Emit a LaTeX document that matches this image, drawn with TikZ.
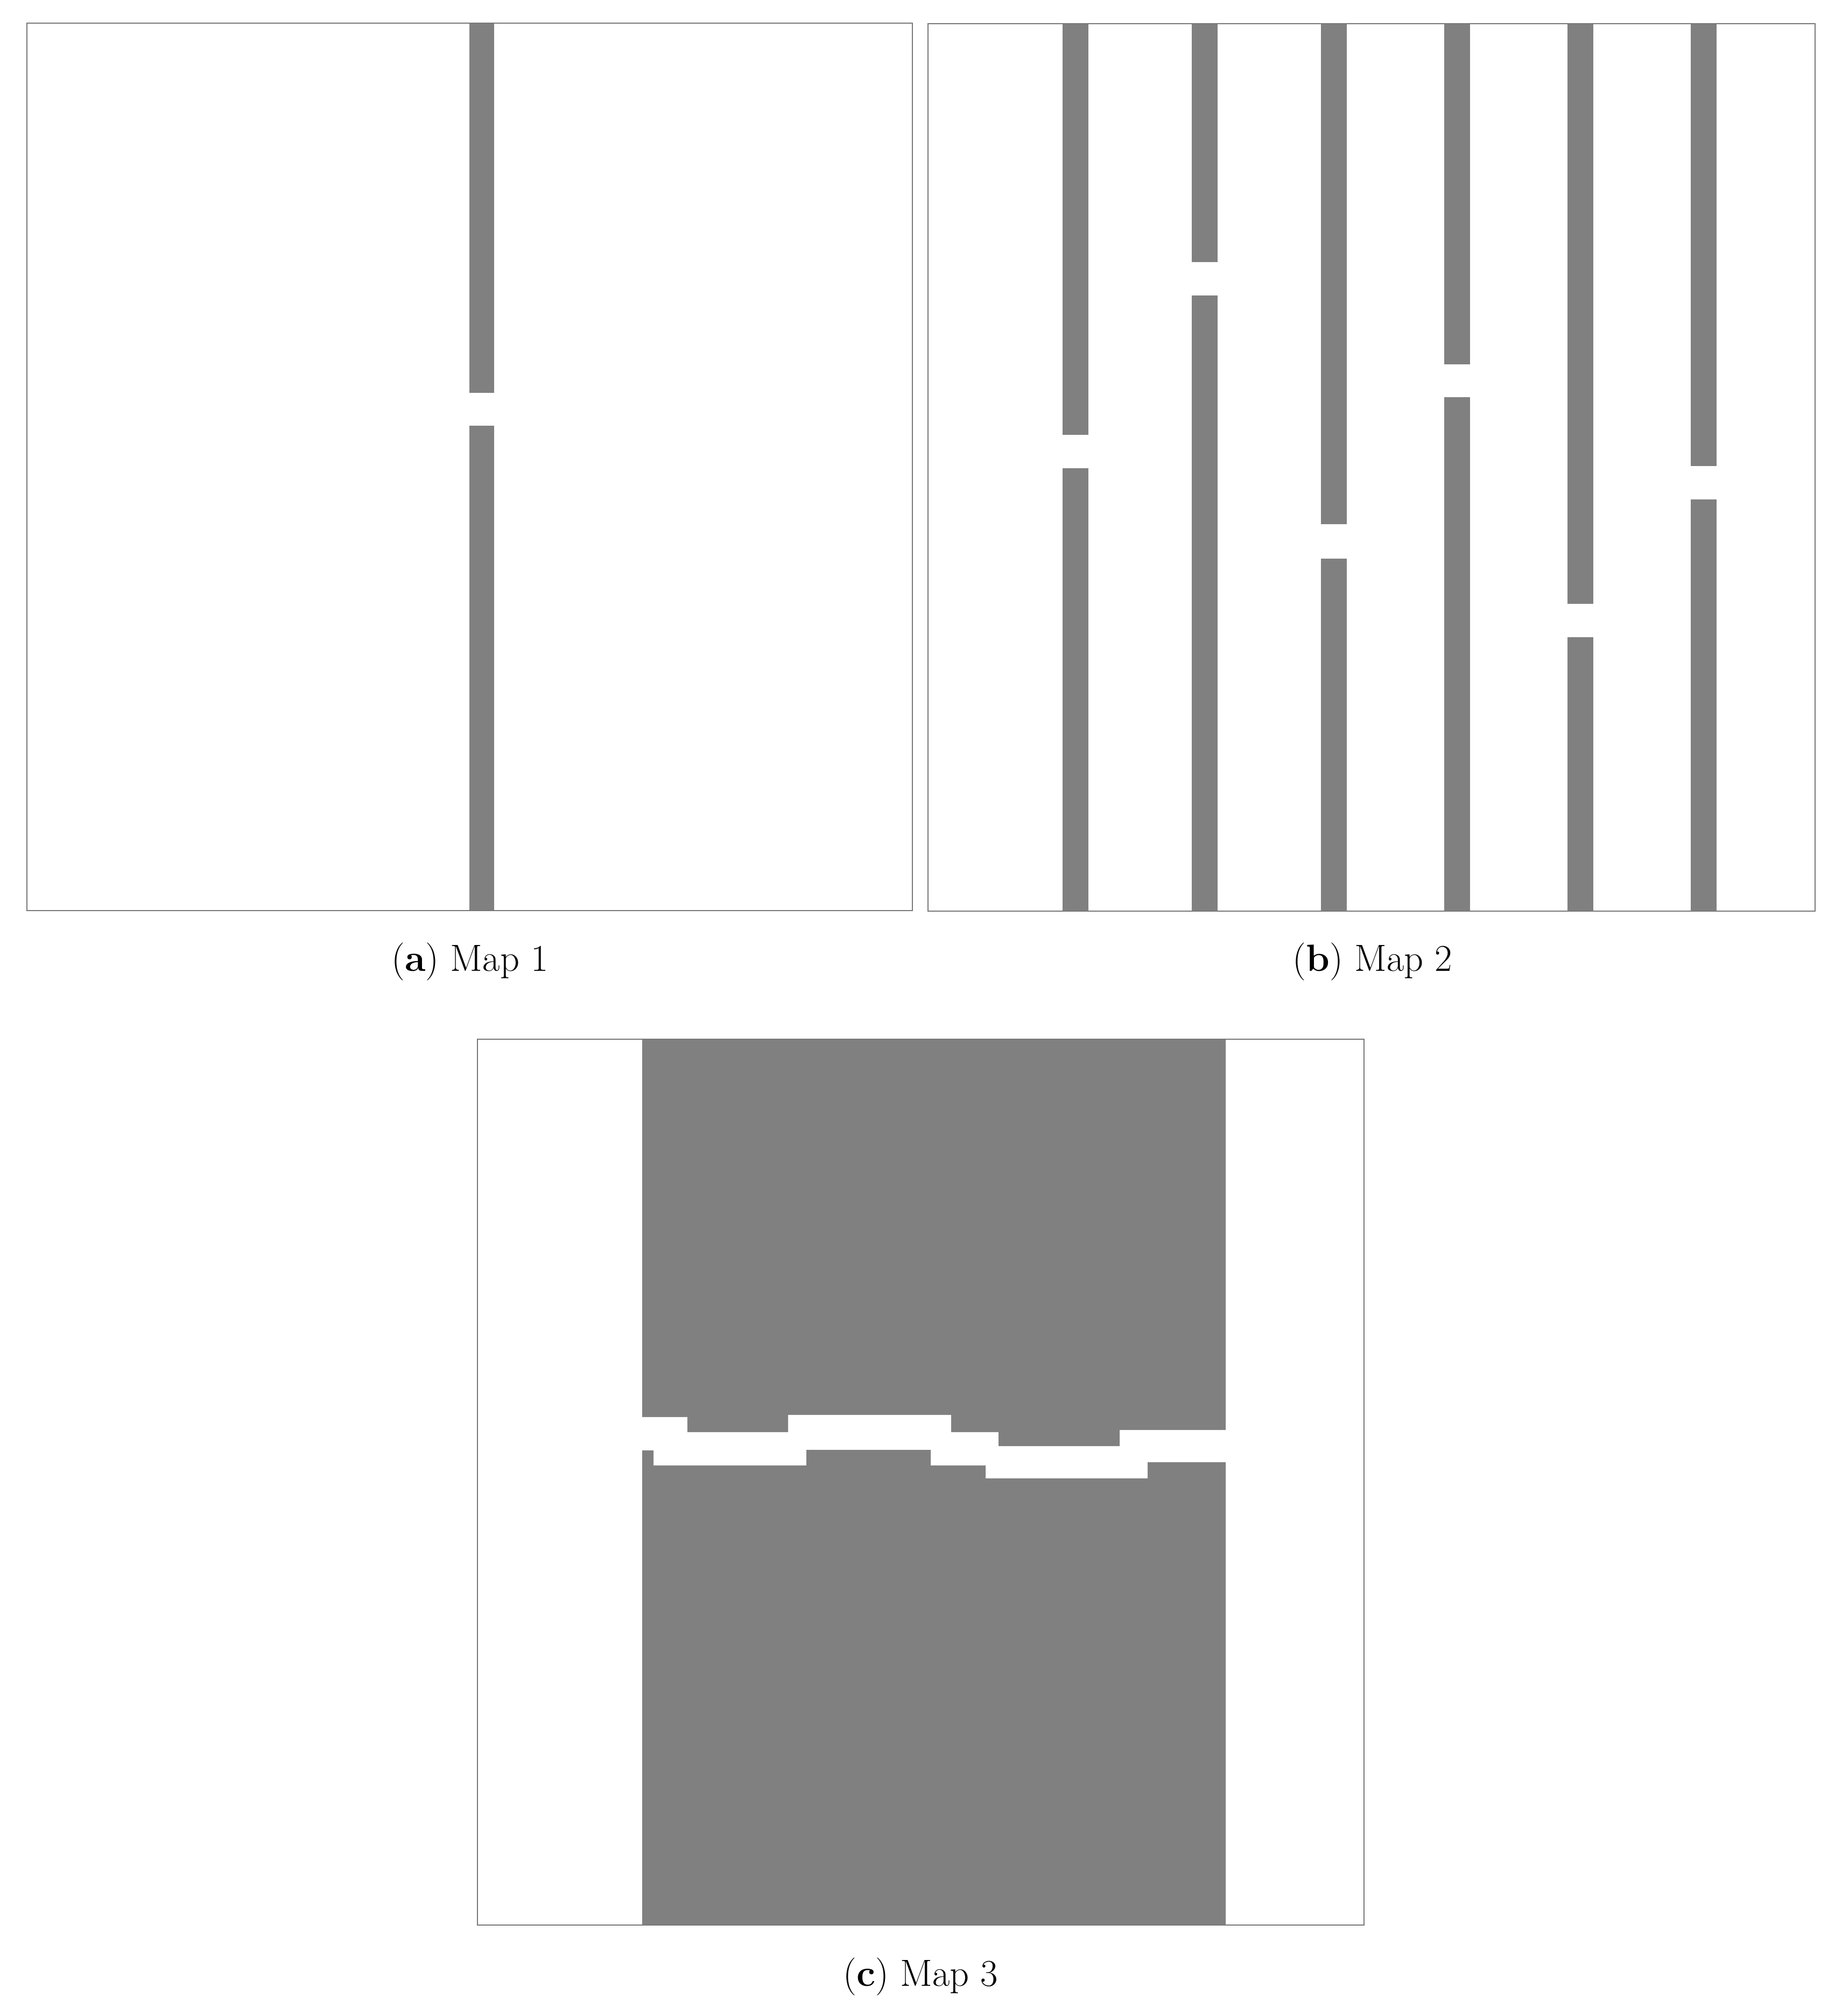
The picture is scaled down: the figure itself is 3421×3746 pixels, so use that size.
\documentclass[tikz,border=0pt]{standalone}
\begin{document}
\begin{tikzpicture}[x=0.01cm,y=-0.01cm,
  wall/.style={fill={rgb,255:red,128;green,128;blue,128}, draw=none},
  frame/.style={draw={rgb,255:red,120;green,120;blue,120}, line width=0.8pt},
  captext/.style={anchor=base, inner sep=0pt, font=\fontsize{20}{24}\selectfont}]
\useasboundingbox[fill=white] (0,0) rectangle (3421,3746);
% ---------- Map 1 ----------
\fill[wall] (872,43) rectangle (918,730);
\fill[wall] (872,791) rectangle (918,1692);
\draw[frame] (50,43) rectangle (1695,1692);
\node[captext] (capa) at (873,1804) {(\textbf{a}) Map 1};
% ---------- Map 2 ----------
\foreach \xa/\xb/\ga/\gb in {1974/2022/808/870, 2214/2262/487/549, 2454/2502/974/1038, 2683/2731/677/738, 2912/2960/1122/1184, 3141/3189/866/928}{
  \fill[wall] (\xa,44) rectangle (\xb,\ga);
  \fill[wall] (\xa,\gb) rectangle (\xb,1693);
}
\draw[frame] (1724,44) rectangle (3372,1693);
\node[captext] (capb) at (2550,1804) {(\textbf{b}) Map 2};
% ---------- Map 3 ----------
\fill[wall] (1193,1931) -- (2277,1931) -- (2277,2657) -- (2080,2657) -- (2080,2687)
  -- (1855,2687) -- (1855,2661) -- (1767,2661) -- (1767,2629) -- (1464,2629)
  -- (1464,2661) -- (1277,2661) -- (1277,2633) -- (1193,2633) -- cycle;
\fill[wall] (1193,3577) -- (1193,2695) -- (1214,2695) -- (1214,2723) -- (1498,2723)
  -- (1498,2694) -- (1729,2694) -- (1729,2723) -- (1831,2723) -- (1831,2747)
  -- (2132,2747) -- (2132,2717) -- (2277,2717) -- (2277,3577) -- cycle;
\draw[frame] (887,1931) rectangle (2534,3577);
\node[captext] (capc) at (1710,3690) {(\textbf{c}) Map 3};
\end{tikzpicture}
\end{document}
